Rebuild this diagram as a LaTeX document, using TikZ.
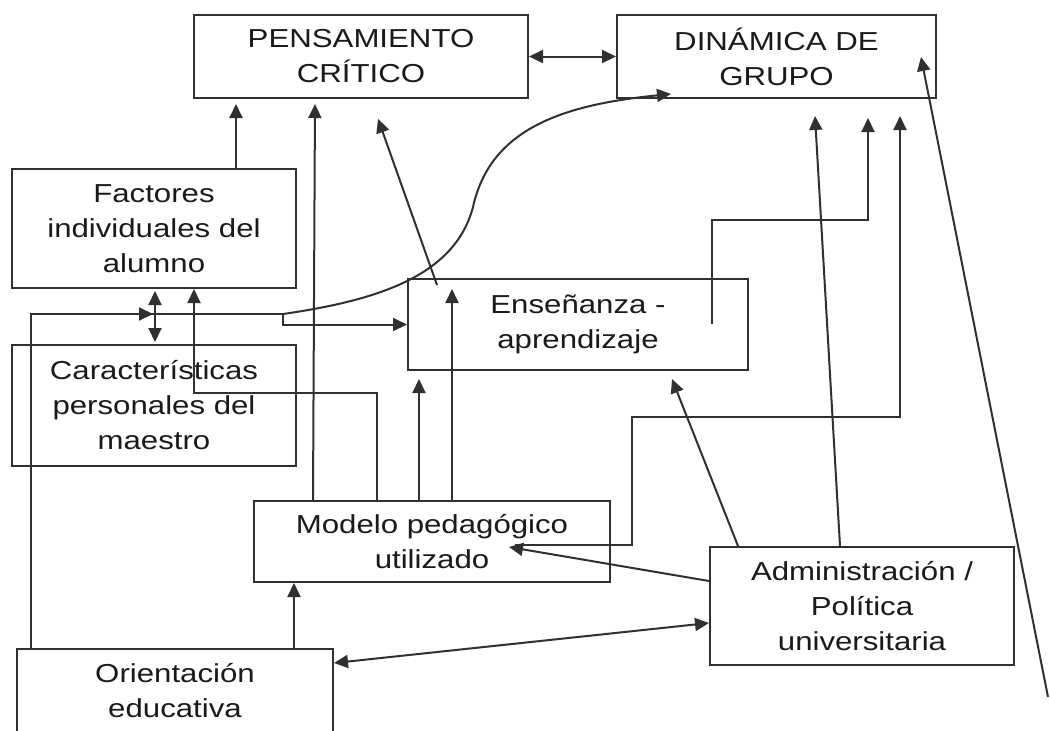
\documentclass[tikz,border=0pt]{standalone}
\usepackage{fontspec}
\setmainfont[FakeStretch=1.2]{Liberation Sans}
\usetikzlibrary{arrows.meta,calc}
\definecolor{ink}{HTML}{303030}
\definecolor{txt}{HTML}{1A1A1A}
\begin{document}
\begin{tikzpicture}[x=1pt,y=-1pt,
  box/.style={draw=ink, line width=2pt, inner sep=0pt, align=center, text=txt,
    font=\fontsize{26}{35}\selectfont},
  con/.style={draw=ink, line width=2pt},
  arr/.style={con, -{Triangle[length=14pt,width=13pt]}},
  darr/.style={con, {Triangle[length=14pt,width=13pt]}-{Triangle[length=14pt,width=13pt]}}]
\useasboundingbox (0,0) rectangle (1050,731);
\clip (0,0) rectangle (1050,731);
\fill[white] (0,0) rectangle (1050,731);

% boxes
\node[box, minimum width=334pt, minimum height=83pt] (pc) at (361,56.5) {PENSAMIENTO\\CRÍTICO};
\node[box, minimum width=319pt, minimum height=83pt] (dg) at (776.5,56.5) {DINÁMICA DE\\GRUPO};
\node[box, minimum width=284pt, minimum height=119pt] (fi) at (154,228.5) {Factores\\individuales del\\alumno};
\node[box, minimum width=284pt, minimum height=121pt] (cp) at (154,405.5) {Características\\personales del\\maestro};
\node[box, minimum width=340pt, minimum height=91pt] (ea) at (578,324.5) {Enseñanza -\\aprendizaje};
\node[box, minimum width=356pt, minimum height=81pt] (mp) at (432,541.5) {Modelo pedagógico\\utilizado};
\node[box, minimum width=304pt, minimum height=118pt] (ap) at (862,606) {Administración /\\Política\\universitaria};
\node[box, minimum width=316pt, minimum height=84pt] (oe) at (175,691) {Orientación\\educativa};

% helper points
\coordinate (j) at (283,314);
\coordinate (k) at (31,314);
\coordinate (m) at (153,314);

% connectors
\draw[arr, shorten >=5pt] (236,0 |- fi.north) -- (236,0 |- pc.south);
\draw[arr, shorten >=5pt] (313,0 |- mp.north) -- (315,0 |- pc.south);
\draw[arr, shorten >=21pt] ($(437,0 |- ea.north)+(0,7)$) -- (371,0 |- pc.south);
\draw[darr] (pc.east) -- (dg.west);

\draw[con] (31,0 |- oe.north) -- (k) -- (j);
\draw[arr] (k) -- (m);
\draw[arr] (j) |- (ea.west);
\draw[arr] (j) .. controls (380,300) and (455,275) .. (473,207)
  .. controls (490,130) and (560,105) .. ($(dg.south west)+(55,-5)$);

\draw[darr, shorten <=2pt, shorten >=2pt] (155,0 |- fi.south) -- (155,0 |- cp.north);
\draw[arr] (377,0 |- mp.north) -- (377,393) -| (194,0 |- fi.south);
\draw[arr, shorten >=8pt] (419,0 |- mp.north) -- (419,0 |- ea.south);
\draw[arr] (452,0 |- mp.north) -- ($(452,0 |- ea.north)+(0,11)$);

\draw[arr, shorten >=19pt] ($(712,0 |- ea.north)+(0,46)$) -- (712,220) -| (868,0 |- dg.south);
\draw[arr] (738,0 |- ap.north) -- ($(672,0 |- ea.south)+(0,8)$);
\draw[arr, shorten >=17pt] (840,0 |- ap.north) -- (814,0 |- dg.south);
\draw[arr, shorten >=17pt] ($(515,0 |- mp.north)+(0,45)$) -| (632,417) -| (900,0 |- dg.south);
\draw[arr] ($(ap.west)+(0,-25)$) -- ($(mp.east)+(-102,5.5)$);

\draw[arr] (294,0 |- oe.north) -- (294,0 |- mp.south);
\draw[darr] ($(oe.east)+(0,-28)$) -- ($(ap.west)+(0,17)$);
\draw[arr] (1048,697) -- ($(dg.north east)+(-16,43)$);
\end{tikzpicture}
\end{document}
